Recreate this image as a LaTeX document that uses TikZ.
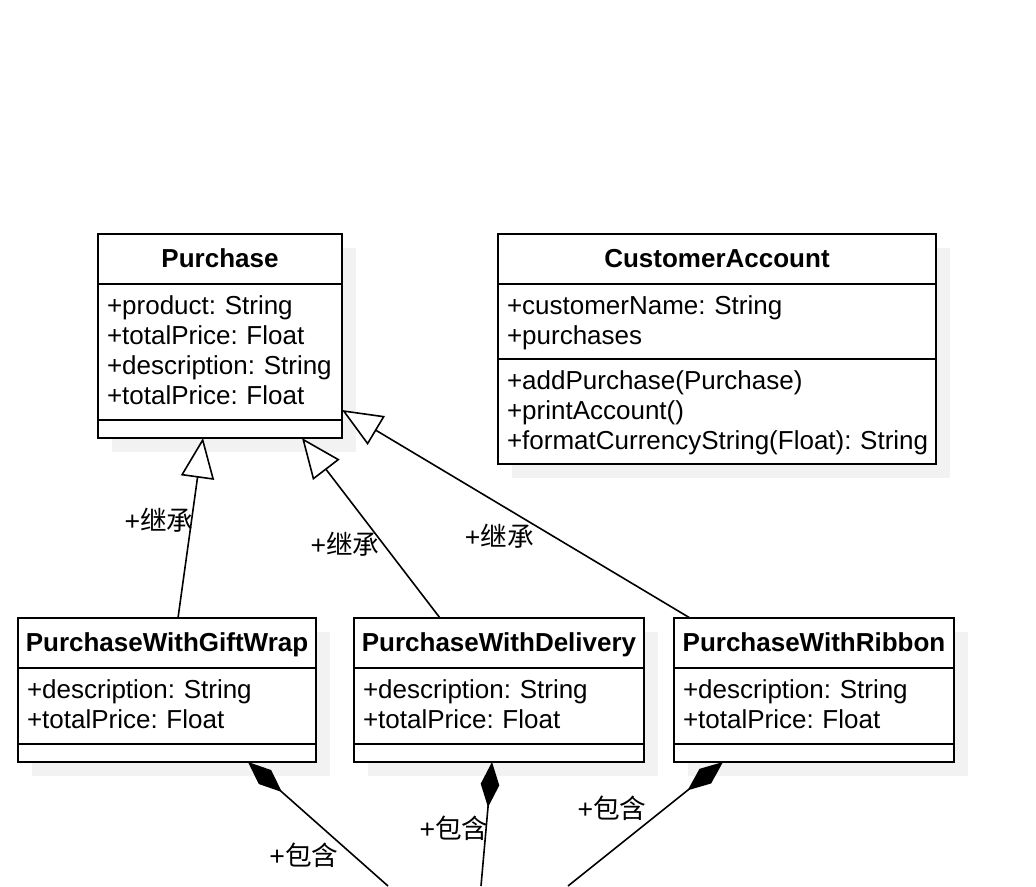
\documentclass[tikz,border=0pt]{standalone}
\usepackage{fontspec}
\setmainfont{Liberation Sans}
\newfontfamily\cjk{Noto Sans CJK SC}
\usepackage{tikz}
\usetikzlibrary{positioning, arrows.meta, calc, backgrounds}
\definecolor{shadowGray}{RGB}{242,242,242}
\frenchspacing
\newcommand{\classFont}{\fontsize{19.5pt}{22.5pt}\selectfont}
\newcommand{\linkFont}{\fontsize{20pt}{24pt}\selectfont}
\newcommand{\rowStrut}{\rule[-5.4pt]{0pt}{22.5pt}}
\newcommand{\memberRows}[1]{\rowStrut#1\rowStrut}
\tikzstyle{classHead} = [rectangle, draw=black, line width=1.5pt, fill=white, minimum height=37.5pt, inner sep=0pt, outer sep=0pt, text height=14pt, text depth=1.6pt, font=\classFont\bfseries]
\tikzstyle{classBody} = [rectangle, draw=black, line width=1.5pt, fill=white, align=left, inner xsep=6.75pt, inner ysep=0pt, outer sep=0pt, font=\classFont]
\tikzstyle{classShadow} = [fill=shadowGray]
\tikzstyle{inherit} = [line width=1.2pt, -{Triangle[open, fill=white, length=30pt, width=25pt]}]
\tikzstyle{compose} = [line width=1.2pt, -{Diamond[length=34pt, width=14pt]}]
\tikzstyle{linkLabel} = [font=\linkFont, inner sep=0pt]

\begin{document}
\begin{tikzpicture}[x=0.75pt, y=-0.75pt]
\useasboundingbox (0,0) rectangle (1036,886);

\node (pHead) [classHead, minimum width=183pt, anchor=north west] at (98,234) {Purchase};
\node (pAttr) [classBody, text width=169.5pt, minimum height=102pt, below=0pt of pHead] {\memberRows{+product: String\\+totalPrice: Float\\\mbox{+description: String}\\+totalPrice: Float}};
\node (pMeth) [classBody, text width=169.5pt, minimum height=13.5pt, below=0pt of pAttr] {};

\node (cHead) [classHead, minimum width=328.5pt, anchor=north west] at (498,234) {CustomerAccount};
\node (cAttr) [classBody, text width=315pt, minimum height=56.25pt, below=0pt of cHead] {\memberRows{+customerName: String\\+purchases}};
\node (cMeth) [classBody, text width=315pt, minimum height=78.75pt, below=0pt of cAttr] {\memberRows{+addPurchase(Purchase)\\+printAccount()\\\mbox{+formatCurrencyString(Float): String}}};

\node (gwHead) [classHead, minimum width=223.5pt, anchor=north west] at (18,618) {PurchaseWithGiftWrap};
\node (gwAttr) [classBody, text width=210pt, minimum height=57pt, below=0pt of gwHead] {\memberRows{+description: String\\+totalPrice: Float}};
\node (gwMeth) [classBody, text width=210pt, minimum height=13.5pt, below=0pt of gwAttr] {};

\node (dlHead) [classHead, minimum width=217.5pt, anchor=north west] at (354,618) {PurchaseWithDelivery};
\node (dlAttr) [classBody, text width=204pt, minimum height=57pt, below=0pt of dlHead] {\memberRows{+description: String\\+totalPrice: Float}};
\node (dlMeth) [classBody, text width=204pt, minimum height=13.5pt, below=0pt of dlAttr] {};

\node (rbHead) [classHead, minimum width=210pt, anchor=north west] at (674,618) {PurchaseWithRibbon};
\node (rbAttr) [classBody, text width=196.5pt, minimum height=57pt, below=0pt of rbHead] {\memberRows{+description: String\\+totalPrice: Float}};
\node (rbMeth) [classBody, text width=196.5pt, minimum height=13.5pt, below=0pt of rbAttr] {};

\begin{pgfonlayer}{background}
\fill [classShadow] ($(pHead.north west)+(14,14)$) rectangle ($(pMeth.south east)+(14,14)$);
\fill [classShadow] ($(cHead.north west)+(14,14)$) rectangle ($(cMeth.south east)+(14,14)$);
\fill [classShadow] ($(gwHead.north west)+(14,14)$) rectangle ($(gwMeth.south east)+(14,14)$);
\fill [classShadow] ($(dlHead.north west)+(14,14)$) rectangle ($(dlMeth.south east)+(14,14)$);
\fill [classShadow] ($(rbHead.north west)+(14,14)$) rectangle ($(rbMeth.south east)+(14,14)$);
\end{pgfonlayer}

\coordinate (gwPart) at (388,886);
\coordinate (dlPart) at (481,886);
\coordinate (rbPart) at (568,886);

\draw [inherit] ($(gwHead.north)+(11,0)$) -- node[linkLabel, pos=0.545, xshift=-24.5pt, yshift=0pt]{+{\cjk 继承}} ($(pMeth.south)+(-17,0)$);
\draw [inherit] ($(dlHead.north)+(-59,0)$) -- node[linkLabel, pos=0.408, xshift=-29pt, yshift=0pt]{+{\cjk 继承}} ($(pMeth.south)+(82,0)$);
\draw [inherit] ($(rbHead.north)+(-124,0)$) -- node[linkLabel, pos=0.393, xshift=-40.5pt, yshift=0pt]{+{\cjk 继承}} ($(pAttr.east)+(0,58)$);

\draw [compose] (gwPart) -- node[linkLabel, pos=0.25, xshift=-36.8pt]{+{\cjk 包含}} ($(gwMeth.south)+(81,0)$);
\draw [compose] (dlPart) -- node[linkLabel, pos=0.468, xshift=-24pt]{+{\cjk 包含}} ($(dlMeth.south)+(-7,0)$);
\draw [compose] (rbPart) -- node[linkLabel, pos=0.629, xshift=-40pt]{+{\cjk 包含}} ($(rbMeth.south)+(-91,0)$);
\end{tikzpicture}
\end{document}
